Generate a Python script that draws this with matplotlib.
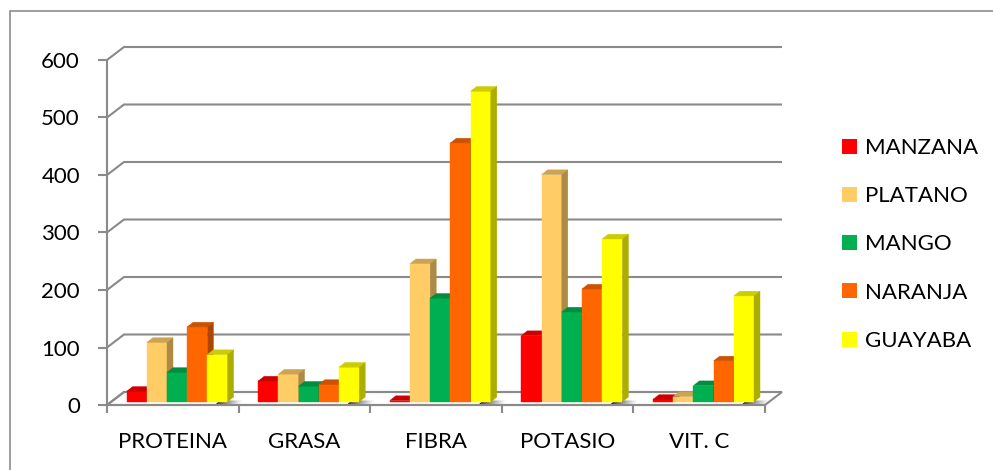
import matplotlib
matplotlib.use("Agg")
import matplotlib.pyplot as plt
import matplotlib.transforms as mtransforms
from matplotlib.patches import Polygon, Patch, Rectangle

# Nutrient content per fruit
categories = ["PROTEINA", "GRASA", "FIBRA", "POTASIO", "VIT. C"]
series_names = ["MANZANA", "PLATANO", "MANGO", "NARANJA", "GUAYABA"]
manzana = [18, 36, 2, 115, 4]
platano = [103, 48, 240, 395, 9]
mango = [51, 27, 180, 156, 28]
naranja = [130, 30, 450, 196, 71]
guayaba = [82, 60, 540, 283, 184]
y_ticks = [0, 100, 200, 300, 400, 500, 600]

series_values = [manzana, platano, mango, naranja, guayaba]
colors = ["#FF0000", "#FFCC66", "#00B050", "#FF6600", "#FFFF00"]

plt.rcParams["font.family"] = ["Lato", "DejaVu Sans"]

GRID = "#8A8A8A"
FS = 16

W, H = 993, 470
fig = plt.figure(figsize=(W / 100, H / 100), dpi=100)
ax = fig.add_axes([107 / W, 65 / H, 658 / W, 345 / H])
ax.set_xlim(-0.5, len(categories) - 0.5)
ax.set_ylim(y_ticks[0], y_ticks[-1])
ax.set_autoscale_on(False)
ax.patch.set_visible(False)

# pixels per data unit, used to express the 3D depth in data units
p0 = ax.transData.transform((0, 0))
p1 = ax.transData.transform((1, 1))
sx, sy = p1[0] - p0[0], p1[1] - p0[1]

# depth of the back wall, front plane of the bars, depth of a bar (pixels)
wall_dx, wall_dy = 17 / sx, 13 / sy
bar_dx, bar_dy = 6 / sx, 4.7 / sy
bar_tr = mtransforms.offset_copy(ax.transData, fig=fig, x=4.3, y=3.3, units="dots")

xl, xr = ax.get_xlim()

# floor
floor = Polygon([(xl, 0), (xr, 0), (xr + wall_dx, wall_dy), (xl + wall_dx, wall_dy)],
                closed=True, facecolor="white", edgecolor=GRID, lw=1.5,
                clip_on=False, zorder=1)
ax.add_patch(floor)

# back wall gridlines with their diagonal link to the value axis
for v in y_ticks:
    ax.plot([xl, xl + wall_dx, xr + wall_dx], [v, v + wall_dy, v + wall_dy],
            color=GRID, lw=1.5, clip_on=False, zorder=1.5,
            solid_capstyle="butt", solid_joinstyle="miter")


def shade(hex_color, f):
    r, g, b = matplotlib.colors.to_rgb(hex_color)
    return (r * f, g * f, b * f)


n_series = len(series_values)
bw = 0.1535
group_left = (1 - n_series * bw) / 2

# floor shadows at the foot of each group
for i in range(len(categories)):
    x_end = i - 0.5 + group_left + n_series * bw + 4.3 / sx
    steps = 14
    span = 24 / sx
    for k in range(steps):
        a0 = x_end - 12 / sx + k * span / steps
        a1 = a0 + span / steps
        alpha = 0.85 * (1 - k / steps) ** 1.3
        ax.add_patch(Polygon([(a0, 0.6 / sy), (a1, 0.6 / sy),
                              (a1 + 4 / sx, 4.5 / sy), (a0 + 4 / sx, 4.5 / sy)],
                             closed=True, facecolor="black", edgecolor="none",
                             alpha=alpha, clip_on=False, zorder=2))

# 3D columns
z = 3.0
for i in range(len(categories)):
    for j, vals in enumerate(series_values):
        v = vals[i]
        c = colors[j]
        x0 = i - 0.5 + group_left + j * bw
        x1 = x0 + bw
        ax.bar(x0, v, width=bw, align="edge", color=c, edgecolor=c, lw=0.3,
               transform=bar_tr, clip_on=False, zorder=z)
        ax.add_patch(Polygon([(x0, v), (x1, v), (x1 + bar_dx, v + bar_dy),
                              (x0 + bar_dx, v + bar_dy)], closed=True,
                             facecolor=shade(c, 0.8), edgecolor=shade(c, 0.8), lw=0.3,
                             transform=bar_tr, clip_on=False, zorder=z + 0.001))
        ax.add_patch(Polygon([(x1, 0), (x1 + bar_dx, bar_dy), (x1 + bar_dx, v + bar_dy),
                              (x1, v)], closed=True,
                             facecolor=shade(c, 0.68), edgecolor=shade(c, 0.68), lw=0.3,
                             transform=bar_tr, clip_on=False, zorder=z + 0.002))
        z += 0.01

# axes styling
for side in ("top", "right"):
    ax.spines[side].set_visible(False)
for side in ("left", "bottom"):
    ax.spines[side].set_color(GRID)
    ax.spines[side].set_linewidth(1.5)
    ax.spines[side].set_zorder(2.5)

ax.set_yticks(y_ticks)
ax.set_yticklabels([str(t) for t in y_ticks])
ax.tick_params(axis="y", length=6.5, width=1.5, color=GRID, pad=13,
               labelsize=FS, labelcolor="black")

ax.set_xticks(range(len(categories)))
ax.set_xticklabels(categories)
ax.set_xticks([k - 0.5 for k in range(len(categories) + 1)], minor=True)
ax.tick_params(axis="x", which="major", length=0, pad=19.5, labelsize=FS,
               labelcolor="black")
ax.tick_params(axis="x", which="minor", length=5.8, width=1.5, color=GRID)

# legend
handles = [Patch(facecolor=c, edgecolor="none") for c in colors]
ax.legend(handles, series_names, loc="upper left",
          bbox_to_anchor=(842 / W, 1 - 138 / H), bbox_transform=fig.transFigure,
          frameon=False, fontsize=FS, handlelength=0.675, handleheight=0.675,
          handletextpad=0.36, labelspacing=1.27, borderpad=0, borderaxespad=0)

# chart area border
fig.add_artist(Rectangle((10 / W, -0.5), 2, 1.5 - 11 / H, transform=fig.transFigure,
                         fill=False, edgecolor="#8C8C8C", lw=1.2))

fig.savefig("out.png", dpi=100)
